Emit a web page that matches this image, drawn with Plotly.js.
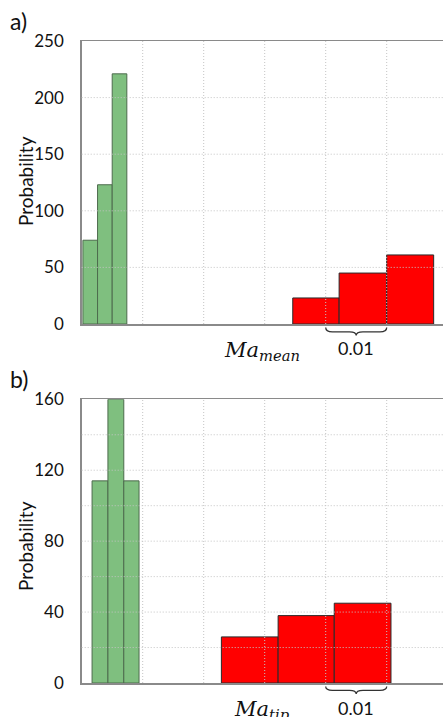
<!DOCTYPE html>
<html><head><meta charset="utf-8">
<script src="https://cdn.plot.ly/plotly-3.0.1.min.js"></script>
<style>html,body{margin:0;padding:0;background:#fff}</style>
</head><body><div id="chart" style="width:443px;height:717px"></div>
<script>
// ---- data ----
const meanGreenEdges = [0.0002, 0.0026, 0.0050, 0.0074];
const meanGreenValues = [74, 123, 221];
const meanRedEdges = [0.0346, 0.0422, 0.0500, 0.0577];
const meanRedValues = [23, 45, 61];
const tipGreenEdges = [0.0017, 0.0043, 0.0069, 0.0094];
const tipGreenValues = [114, 160, 114];
const tipRedEdges = [0.0229, 0.0322, 0.0414, 0.0507];
const tipRedValues = [26, 38, 45];
const meanYTicks = [0, 50, 100, 150, 200, 250];
const tipYTicks = [0, 40, 80, 120, 160];
const xGridValues = [0.01, 0.02, 0.03, 0.04, 0.05];
const panelLabels = ['a)', 'b)'];
const xTitles = ['<i>Ma</i><sub><i>mean</i></sub>', '<i>Ma</i><sub><i>tip</i></sub>'];
const yTitle = 'Probability';
const braceLabel = '0.01';
const braceSpan = [0.04, 0.05];

// ---- helpers ----
function centers(e){ return e.slice(0,-1).map((v,i)=>(v+e[i+1])/2); }
function widths(e){ return e.slice(0,-1).map((v,i)=>e[i+1]-v); }
const GREEN = '#7fbf7f', GREEN_LINE = '#4d6b4d', RED = '#ff0000', RED_LINE = '#2a2a2a';
function bar(edges, vals, fill, line, xa, ya){
  return {type:'bar', x:centers(edges), y:vals, width:widths(edges), xaxis:xa, yaxis:ya,
    marker:{color:fill, line:{color:line, width:1}}, showlegend:false, hoverinfo:'skip'};
}
const traces = [
  bar(meanGreenEdges, meanGreenValues, GREEN, GREEN_LINE, 'x', 'y'),
  bar(meanRedEdges, meanRedValues, RED, RED_LINE, 'x', 'y'),
  bar(tipGreenEdges, tipGreenValues, GREEN, GREEN_LINE, 'x2', 'y2'),
  bar(tipRedEdges, tipRedValues, RED, RED_LINE, 'x2', 'y2')
];

const H = 717, W = 443;
const py = p => 1 - p / H, px = p => p / W;
const XR = [0, 0.05923];
const FONT = 'Lato, Open Sans, sans-serif';
const gridLine = {color:'#c4c4c4', width:1, dash:'1px,2px'};

function xaxis(anchor){
  return {domain:[px(81.7), 1], range:XR, anchor:anchor, showgrid:false, zeroline:false,
    showline:true, mirror:true, linecolor:'#8a8a8a', linewidth:1.5, showticklabels:false,
    ticks:'', automargin:false, fixedrange:true};
}
function yaxis(anchor, dom, ticks){
  return {domain:dom, range:[0, ticks[ticks.length-1]], anchor:anchor, tickvals:ticks,
    ticktext:ticks.map(String), showgrid:false, zeroline:false, showline:true,
    linecolor:'#8a8a8a', linewidth:1.5, ticks:'', ticklabelstandoff:13,
    tickfont:{family:FONT, size:17, color:'#111'}, automargin:false, fixedrange:true};
}

const shapes = [];
function grid(xa, ya, yticks, step){
  xGridValues.forEach(v => shapes.push({type:'line', xref:xa, yref:ya+' domain', x0:v, x1:v, y0:0, y1:1, line:gridLine, layer:'above'}));
  const top = yticks[yticks.length-1];
  for (let v = step; v < top; v += step)
    shapes.push({type:'line', xref:xa+' domain', yref:ya, x0:0, x1:1, y0:v, y1:v, line:gridLine, layer:'above'});
}
grid('x', 'y', meanYTicks, meanYTicks[1]);
grid('x2', 'y2', tipYTicks, tipYTicks[1] / 2);

function brace(xa, top, mid, bot){
  const [a, b] = braceSpan, m = (a + b) / 2, d = 0.0011;
  const T = py(top), M = py(mid), B = py(bot);
  shapes.push({type:'path', xref:xa, yref:'paper', layer:'above',
    path:`M${a},${T} Q${a},${M} ${a+d},${M} L${m-d},${M} Q${m},${M} ${m},${B} Q${m},${M} ${m+d},${M} L${b-d},${M} Q${b},${M} ${b},${T}`,
    line:{color:'#333', width:1.3}});
}
brace('x', 327.5, 331.8, 335.5);
brace('x2', 686.5, 690.3, 694);

const annotations = [
  {text:panelLabels[0], x:px(18), y:py(21)},
  {text:panelLabels[1], x:px(19), y:py(379)}
].map(a => Object.assign(a, {xref:'paper', yref:'paper', showarrow:false, xanchor:'center', yanchor:'middle',
  font:{family:FONT, size:23, color:'#111'}}));
annotations.push(
  {text:yTitle, x:px(25), y:py(181), textangle:-90},
  {text:yTitle, x:px(25), y:py(546), textangle:-90}
);
annotations.slice(2).forEach(a => Object.assign(a, {xref:'paper', yref:'paper', showarrow:false, xanchor:'center', yanchor:'middle',
  font:{family:FONT, size:19, color:'#111'}}));
annotations.push(
  {text:xTitles[0], x:px(262), y:py(336), xref:'paper', yref:'paper', showarrow:false, xanchor:'center', yanchor:'top',
   font:{family:'DejaVu Serif, serif', size:21, color:'#111'}},
  {text:braceLabel, x:px(356), y:py(348), xref:'paper', yref:'paper', showarrow:false, xanchor:'center', yanchor:'middle',
   font:{family:FONT, size:18, color:'#111'}},
  {text:xTitles[1], x:px(262), y:py(695), xref:'paper', yref:'paper', showarrow:false, xanchor:'center', yanchor:'top',
   font:{family:'DejaVu Serif, serif', size:21, color:'#111'}},
  {text:braceLabel, x:px(356), y:py(708), xref:'paper', yref:'paper', showarrow:false, xanchor:'center', yanchor:'middle',
   font:{family:FONT, size:18, color:'#111'}}
);

const layout = {
  width:W, height:H, margin:{l:0, r:0, t:0, b:0}, paper_bgcolor:'#fff', plot_bgcolor:'#fff',
  barmode:'overlay', bargap:0, showlegend:false,
  xaxis:xaxis('y'), yaxis:yaxis('x', [py(324), py(41)], meanYTicks),
  xaxis2:xaxis('y2'), yaxis2:yaxis('x2', [py(683), py(399.3)], tipYTicks),
  shapes:shapes, annotations:annotations
};
Plotly.newPlot('chart', traces, layout, {displayModeBar:false, staticPlot:true});
</script></body></html>
